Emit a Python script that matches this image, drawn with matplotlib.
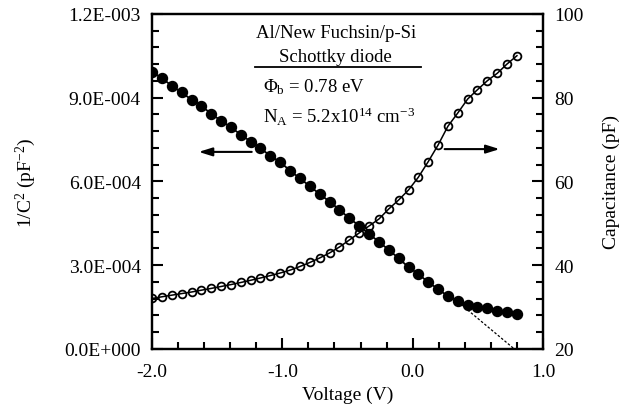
import matplotlib
matplotlib.use('Agg')
import matplotlib.pyplot as plt
from matplotlib.ticker import MultipleLocator, FuncFormatter

plt.rcParams['font.family'] = 'Liberation Serif'
plt.rcParams['mathtext.fontset'] = 'custom'
plt.rcParams['mathtext.rm'] = 'Liberation Serif'
plt.rcParams['mathtext.it'] = 'Liberation Serif:italic'

# voltage (V)
voltage = [-2.000, -1.924, -1.849, -1.773, -1.697, -1.622, -1.546, -1.470,
           -1.395, -1.319, -1.243, -1.168, -1.092, -1.016, -0.941, -0.865,
           -0.789, -0.714, -0.638, -0.562, -0.486, -0.411, -0.335, -0.259,
           -0.184, -0.108, -0.032, 0.043, 0.119, 0.195, 0.270, 0.346,
           0.422, 0.497, 0.573, 0.649, 0.724, 0.800]

# 1/C^2 (pF^-2)
inv_c2 = [9.93e-4, 9.70e-4, 9.43e-4, 9.19e-4, 8.93e-4, 8.72e-4, 8.42e-4, 8.18e-4,
          7.94e-4, 7.68e-4, 7.43e-4, 7.19e-4, 6.92e-4, 6.69e-4, 6.39e-4, 6.11e-4,
          5.83e-4, 5.55e-4, 5.28e-4, 4.99e-4, 4.68e-4, 4.42e-4, 4.12e-4, 3.84e-4,
          3.55e-4, 3.25e-4, 2.93e-4, 2.69e-4, 2.39e-4, 2.15e-4, 1.89e-4, 1.73e-4,
          1.58e-4, 1.52e-4, 1.46e-4, 1.37e-4, 1.31e-4, 1.24e-4]

# capacitance (pF)
cap = [32.06, 32.47, 32.85, 33.23, 33.61, 34.04, 34.47, 34.93,
       35.38, 35.88, 36.41, 36.96, 37.53, 38.15, 38.82, 39.70,
       40.66, 41.73, 42.93, 44.36, 46.03, 47.70, 49.37, 51.04,
       53.43, 55.58, 57.97, 61.00, 64.73, 68.72, 73.18, 76.36,
       79.70, 81.92, 84.07, 85.84, 88.06, 90.04]

# linear extrapolation of 1/C^2
fit_v = [0.37, 0.78]
fit_y = [1.6e-4, 0.0]


def sci_fmt(v, pos):
    s = '%.1E' % v
    mant, ex = s.split('E')
    return '%sE%s%03d' % (mant, ex[0], abs(int(ex)))


fig = plt.figure(figsize=(6.29, 4.14), dpi=100)
ax = fig.add_axes([0.2417, 0.1546, 0.6216, 0.8092])
ax2 = ax.twinx()

ax2.plot(voltage, cap, '-', color='black', lw=1.1,
         marker='o', ms=5.6, mfc='none', mec='black', mew=1.3, zorder=2)
ax.plot(voltage, inv_c2, '-', color='black', lw=1.3,
        marker='o', ms=7.2, mfc='black', mec='black', zorder=3)
ax.plot(fit_v, fit_y, color='black', lw=0.9, ls=(0, (2, 1.5)))

ax.set_zorder(ax2.get_zorder() + 1)
ax.patch.set_visible(False)

ax.set_xlim(-2.0, 1.0)
ax.set_ylim(0, 1.2e-3)
ax2.set_ylim(20, 100)

ax.xaxis.set_major_locator(MultipleLocator(1.0))
ax.xaxis.set_minor_locator(MultipleLocator(0.2))
ax.yaxis.set_major_locator(MultipleLocator(3e-4))
ax.yaxis.set_minor_locator(MultipleLocator(6e-5))
ax2.yaxis.set_major_locator(MultipleLocator(20))
ax2.yaxis.set_minor_locator(MultipleLocator(4))

ax.xaxis.set_major_formatter(FuncFormatter(lambda v, p: '%.1f' % v))
ax.yaxis.set_major_formatter(FuncFormatter(sci_fmt))

for a in (ax, ax2):
    for sp in a.spines.values():
        sp.set_linewidth(1.6)
    a.tick_params(which='major', direction='in', length=8, width=1.5,
                  labelsize=14, pad=8)
    a.tick_params(which='minor', direction='in', length=5, width=1.5)
ax.tick_params(axis='both', which='both', top=False, right=False)
ax.tick_params(axis='x', pad=10)
ax2.tick_params(axis='y', which='both', left=False, right=True)

ax.set_xlabel('Voltage (V)', fontsize=14, labelpad=4)
ax.set_ylabel(r'1/C$^{2}$ (pF$^{-2}$)', fontsize=14, labelpad=19)
ax2.set_ylabel('Capacitance (pF)', fontsize=14, labelpad=14)

# annotation block
ax.text(0.47, 0.945, 'Al/New Fuchsin/p-Si', transform=ax.transAxes,
        ha='center', va='center', fontsize=13.5)
ax.text(0.47, 0.874, 'Schottky diode', transform=ax.transAxes,
        ha='center', va='center', fontsize=13.5)
ax.plot([0.263, 0.688], [0.842, 0.842], transform=ax.transAxes,
        color='black', lw=1.3)
ax.text(0.283, 0.785, r'$\Phi_\mathrm{b}$ = 0.78 eV', transform=ax.transAxes,
        ha='left', va='center', fontsize=13.5)
ax.text(0.283, 0.695, r'N$_\mathrm{A}$ = 5.2x10$^{14}$ cm$^{-3}$',
        transform=ax.transAxes, ha='left', va='center', fontsize=13.5)

arrow = dict(arrowstyle='-|>,head_length=0.8,head_width=0.25',
             color='black', lw=1.5, shrinkA=0, shrinkB=0)
ax.annotate('', xy=(-1.642, 7.06e-4), xytext=(-1.235, 7.06e-4),
            arrowprops=arrow)
ax.annotate('', xy=(0.667, 7.16e-4), xytext=(0.245, 7.16e-4),
            arrowprops=arrow)

fig.savefig('out.png', dpi=100)
